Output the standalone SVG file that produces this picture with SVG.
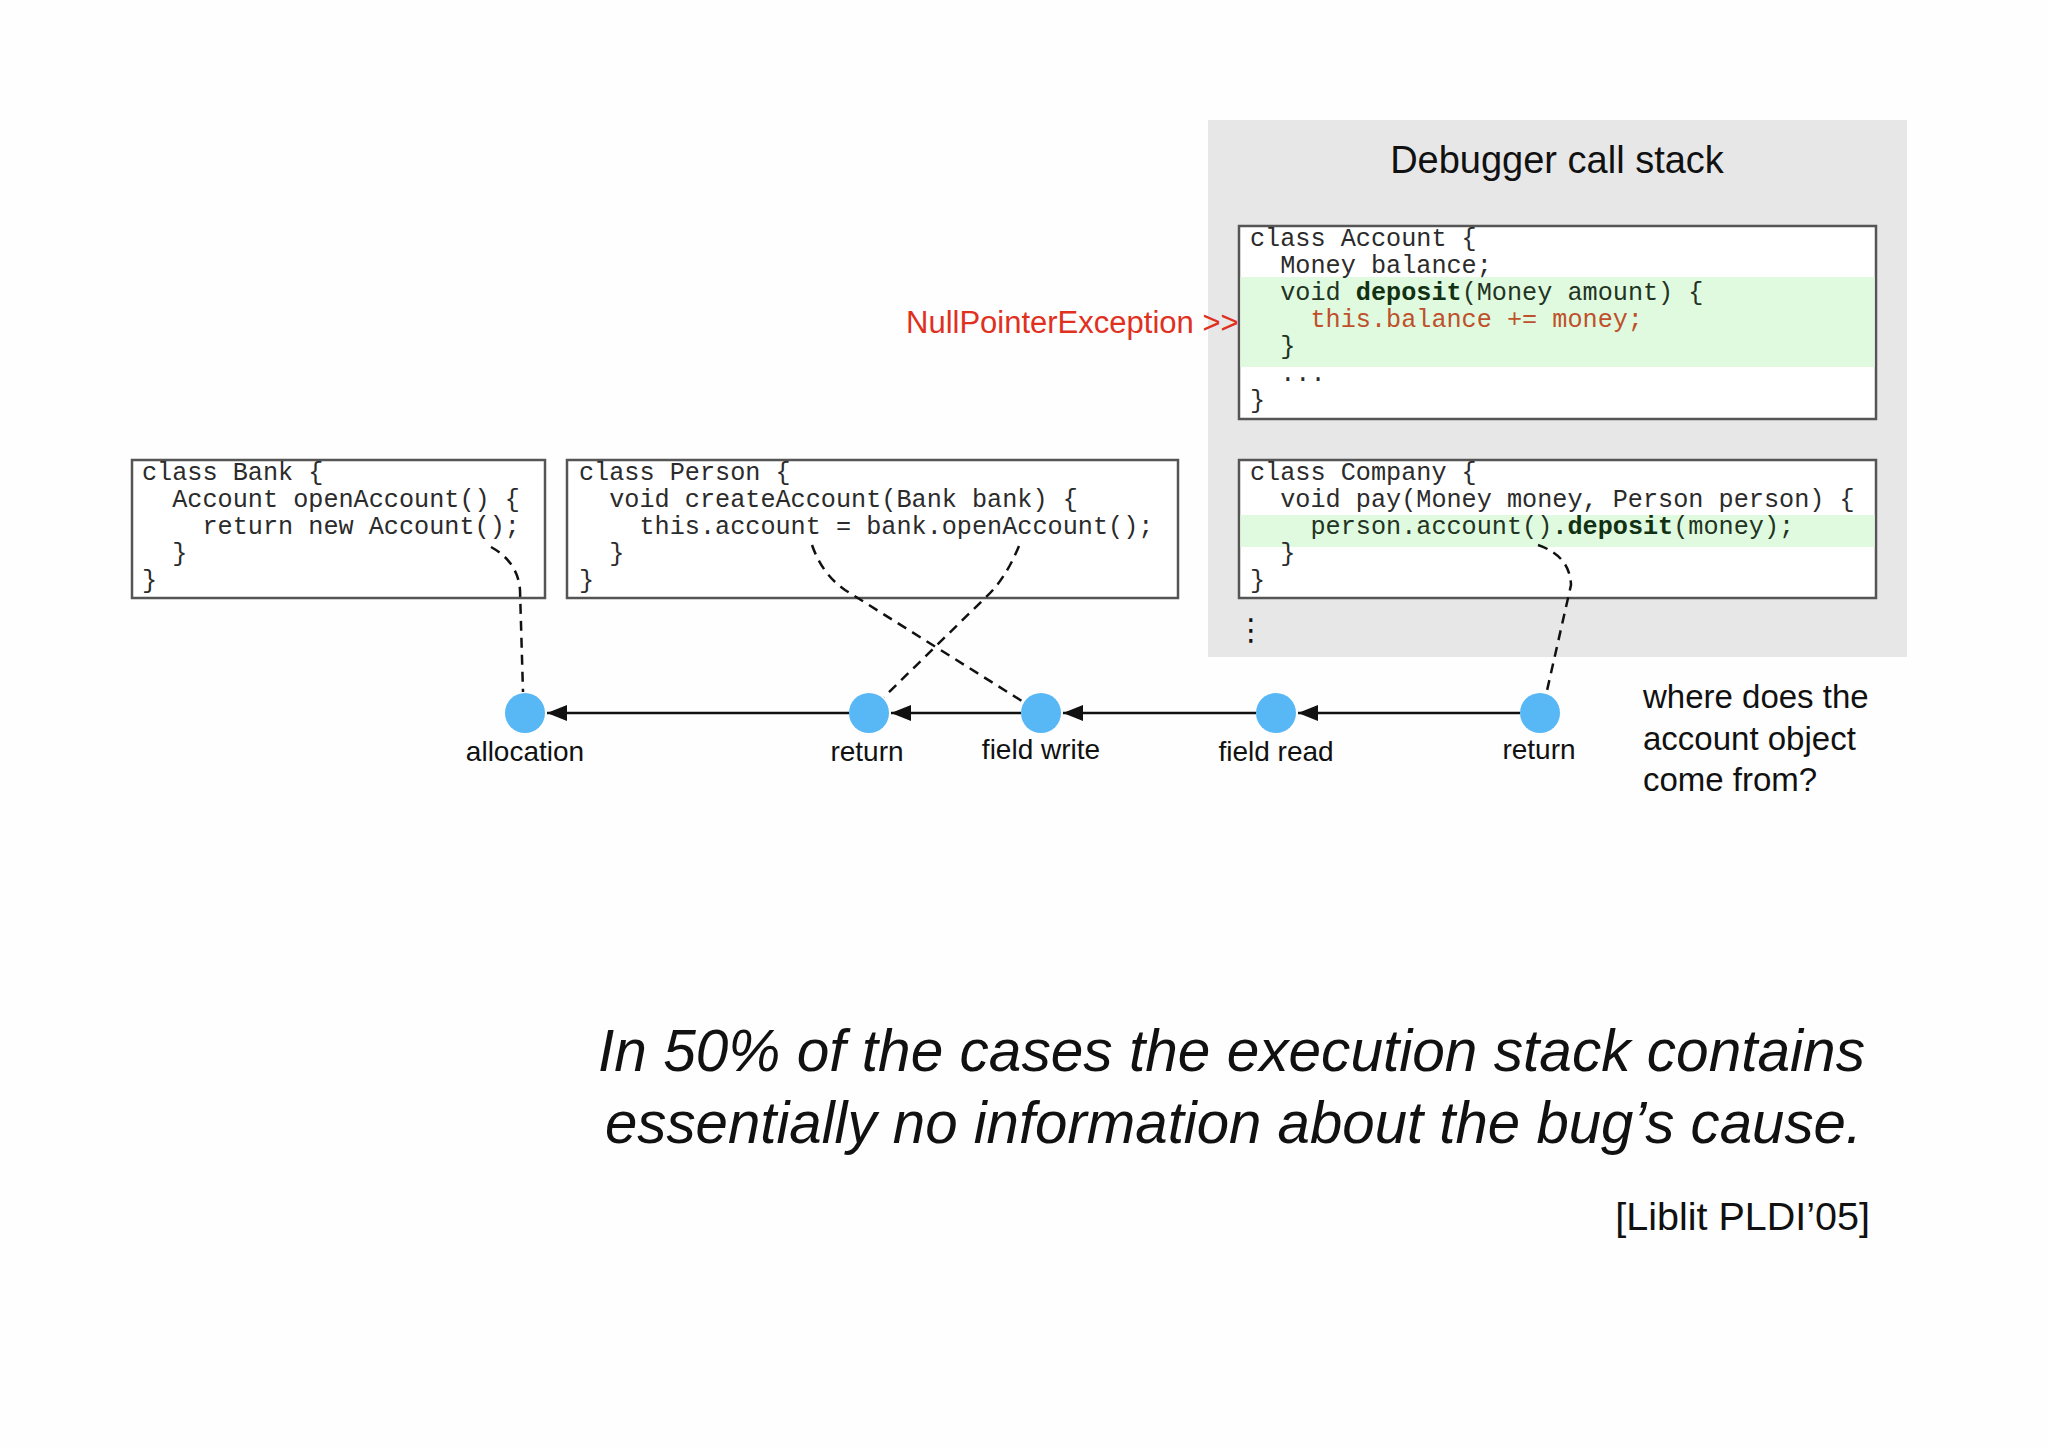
<svg xmlns="http://www.w3.org/2000/svg" width="2048" height="1448" viewBox="0 0 2048 1448">
<defs>
<style>
.code{font-family:"Liberation Mono","Courier New",monospace;font-size:25.2px;fill:#2b2b2b;white-space:pre}
.hl{fill:#223322}
.b{font-weight:bold;fill:#123012}
.err{fill:#c0502a}
.box{fill:#ffffff;stroke:#555555;stroke-width:2.5}
.band{fill:#dffadf}
.node{fill:#58b7f5}
.lbl{font-family:"Liberation Sans",Arial,sans-serif;font-size:28px;fill:#111;text-anchor:middle}
.sans{font-family:"Liberation Sans",Arial,sans-serif;fill:#111}
.dash{fill:none;stroke:#111;stroke-width:2.5;stroke-dasharray:10 7}
.edge{fill:none;stroke:#111;stroke-width:2.6}
</style>
<marker id="ah" viewBox="0 0 20 16" refX="20" refY="8" markerWidth="20" markerHeight="16" markerUnits="userSpaceOnUse" orient="auto">
<path d="M0,0 L20,8 L0,16 z" fill="#111"/>
</marker>
</defs>
<rect width="2048" height="1448" fill="#fefefe"/>

<g id="callstack-panel">
<rect x="1208" y="120" width="699" height="537" fill="#e7e7e7"/>
<text class="sans" x="1557" y="173" font-size="38" text-anchor="middle">Debugger call stack</text>
<text x="1251" y="640" font-family="DejaVu Sans,sans-serif" font-size="30" fill="#111" text-anchor="middle">⋮</text>
</g>

<g id="account-box">
<rect class="box" x="1239" y="226" width="637" height="193"/>
<rect class="band" x="1240.5" y="277" width="634" height="90"/>
<text class="code" x="1250" y="246">class Account {</text>
<text class="code" x="1250" y="273">  Money balance;</text>
<text class="code hl" x="1250" y="300">  void <tspan class="b">deposit</tspan>(Money amount) {</text>
<text class="code err" x="1250" y="327">    this.balance += money;</text>
<text class="code hl" x="1250" y="354">  }</text>
<text class="code" x="1250" y="381">  ...</text>
<text class="code" x="1250" y="408">}</text>
</g>

<g id="exception-label">
<text class="sans" x="906" y="333" font-size="31" fill="#e0301e" style="fill:#e0301e">NullPointerException &gt;&gt;</text>
</g>

<g id="company-box">
<rect class="box" x="1239" y="460" width="637" height="138"/>
<rect class="band" x="1240.5" y="515" width="634" height="32"/>
<text class="code" x="1250" y="480">class Company {</text>
<text class="code" x="1250" y="507">  void pay(Money money, Person person) {</text>
<text class="code hl" x="1250" y="534">    person.account()<tspan class="b">.deposit</tspan>(money);</text>
<text class="code" x="1250" y="561">  }</text>
<text class="code" x="1250" y="588">}</text>
</g>

<g id="bank-box">
<rect class="box" x="132" y="460" width="413" height="138"/>
<text class="code" x="142" y="480">class Bank {</text>
<text class="code" x="142" y="507">  Account openAccount() {</text>
<text class="code" x="142" y="534">    return new Account();</text>
<text class="code" x="142" y="561">  }</text>
<text class="code" x="142" y="588">}</text>
</g>

<g id="person-box">
<rect class="box" x="567" y="460" width="611" height="138"/>
<text class="code" x="579" y="480">class Person {</text>
<text class="code" x="579" y="507">  void createAccount(Bank bank) {</text>
<text class="code" x="579" y="534">    this.account = bank.openAccount();</text>
<text class="code" x="579" y="561">  }</text>
<text class="code" x="579" y="588">}</text>
</g>

<g id="connectors">
<line class="edge" x1="849" y1="713" x2="547" y2="713" marker-end="url(#ah)"/>
<line class="edge" x1="1021" y1="713" x2="891" y2="713" marker-end="url(#ah)"/>
<line class="edge" x1="1256" y1="713" x2="1063" y2="713" marker-end="url(#ah)"/>
<line class="edge" x1="1520" y1="713" x2="1298" y2="713" marker-end="url(#ah)"/>
<path class="dash" d="M491,547 Q518,562 520,590 L523,692"/>
<path class="dash" d="M812,545 Q822,574 845,590 L1025,703"/>
<path class="dash" d="M1019,546 Q1005,580 985,598 L884,697"/>
<path class="dash" d="M1538,545 Q1570,556 1571,585 L1546,695"/>
</g>

<g id="node-allocation">
<circle class="node" cx="525" cy="713" r="20"/>
<text class="lbl" x="525" y="761">allocation</text>
</g>
<g id="node-return1">
<circle class="node" cx="869" cy="713" r="20"/>
<text class="lbl" x="867" y="761">return</text>
</g>
<g id="node-fieldwrite">
<circle class="node" cx="1041" cy="713" r="20"/>
<text class="lbl" x="1041" y="759">field write</text>
</g>
<g id="node-fieldread">
<circle class="node" cx="1276" cy="713" r="20"/>
<text class="lbl" x="1276" y="761">field read</text>
</g>
<g id="node-return2">
<circle class="node" cx="1540" cy="713" r="20"/>
<text class="lbl" x="1539" y="759">return</text>
</g>

<g id="question">
<text class="sans" font-size="33" x="1643" y="708">where does the</text>
<text class="sans" font-size="33" x="1643" y="750">account object</text>
<text class="sans" font-size="33" x="1643" y="791">come from?</text>
</g>

<g id="conclusion">
<text class="sans" font-size="58.6" font-style="italic" x="598" y="1071" textLength="1267" lengthAdjust="spacingAndGlyphs">In 50% of the cases the execution stack contains</text>
<text class="sans" font-size="58.6" font-style="italic" x="605" y="1143" textLength="1257" lengthAdjust="spacingAndGlyphs">essentially no information about the bug’s cause.</text>
<text class="sans" font-size="39.5" x="1870" y="1230" text-anchor="end">[Liblit PLDI’05]</text>
</g>
</svg>
